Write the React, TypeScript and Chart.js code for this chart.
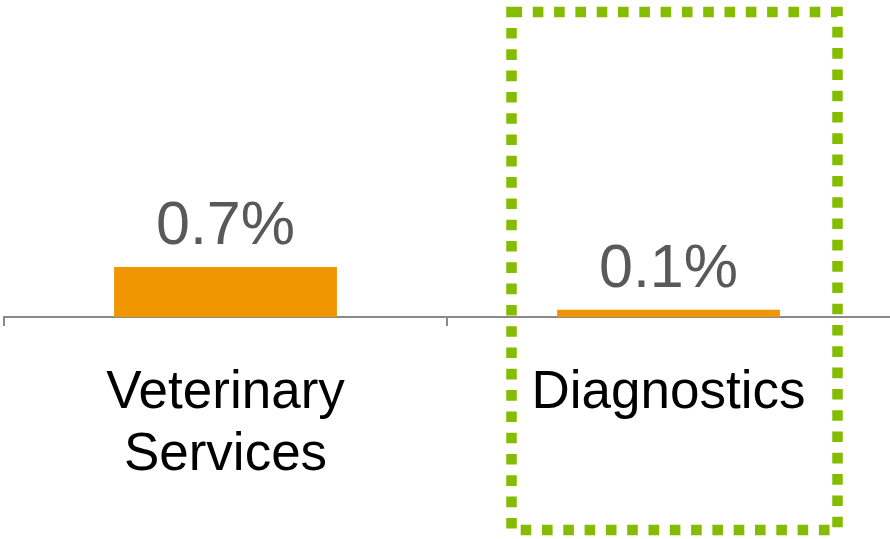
import React, { useEffect, useRef } from "react";
import { Chart, registerables } from "chart.js";

Chart.register(...registerables);

const categories: (string | string[])[] = [["Veterinary", "Services"], "Diagnostics"];
const values: number[] = [0.7, 0.1];
const valueLabels: string[] = ["0.7%", "0.1%"];
const highlightIndex = 1;

const valueLabelPlugin = {
  id: "valueLabels",
  afterDatasetsDraw(chart: any) {
    const ctx = chart.ctx;
    const meta = chart.getDatasetMeta(0);
    ctx.save();
    ctx.font = '61px "Liberation Sans", Arial, sans-serif';
    ctx.fillStyle = "#595959";
    ctx.textAlign = "center";
    ctx.textBaseline = "alphabetic";
    meta.data.forEach((bar: any, i: number) => {
      ctx.fillText(valueLabels[i], bar.x, bar.y - 23);
    });
    ctx.restore();
  },
};

const highlightPlugin = {
  id: "highlightBox",
  afterDraw(chart: any) {
    const ctx = chart.ctx;
    const xs = chart.scales.x;
    const cx = xs.getPixelForValue(highlightIndex);
    ctx.save();
    ctx.strokeStyle = "#85BC00";
    ctx.lineWidth = 10.5;
    ctx.setLineDash([10.6, 10.7]);
    ctx.lineCap = "butt";
    ctx.strokeRect(cx - 157, 12, 326, 518);
    ctx.restore();
  },
};

export default function App() {
  const ref = useRef<HTMLCanvasElement | null>(null);
  useEffect(() => {
    document.body.style.margin = "0";
    const chart = new Chart(ref.current as HTMLCanvasElement, {
      type: "bar",
      data: {
        labels: categories,
        datasets: [
          {
            data: values,
            backgroundColor: "#F09600",
            borderWidth: 0,
            barPercentage: 0.503,
            categoryPercentage: 1,
          },
        ],
      },
      options: {
        animation: false,
        responsive: false,
        devicePixelRatio: 1,
        layout: { padding: { left: 4, right: 0, top: 0, bottom: 0 } },
        plugins: { legend: { display: false }, tooltip: { enabled: false } },
        scales: {
          x: {
            offset: true,
            grid: {
              offset: true,
              drawOnChartArea: false,
              drawTicks: true,
              tickLength: 9,
              color: "#8A8A8A",
              lineWidth: (c: any) => (c.type === "tick" ? 2 : 0),
            },
            border: { display: true, color: "#8A8A8A", width: 2 },
            ticks: {
              color: "#000000",
              padding: 36,
              maxRotation: 0,
              autoSkip: false,
              font: { family: '"Liberation Sans", Arial, sans-serif', size: 53, lineHeight: 1.17 },
            },
            afterFit(scale: any) {
              scale.height = 222;
            },
          },
          y: { display: false, min: 0, max: 4.44 },
        },
      },
      plugins: [valueLabelPlugin, highlightPlugin],
    });
    return () => chart.destroy();
  }, []);
  return (
    <div style={{ position: "absolute", left: 0, top: 0, width: 890, height: 539 }}>
      <canvas ref={ref} width={890} height={539} />
    </div>
  );
}
